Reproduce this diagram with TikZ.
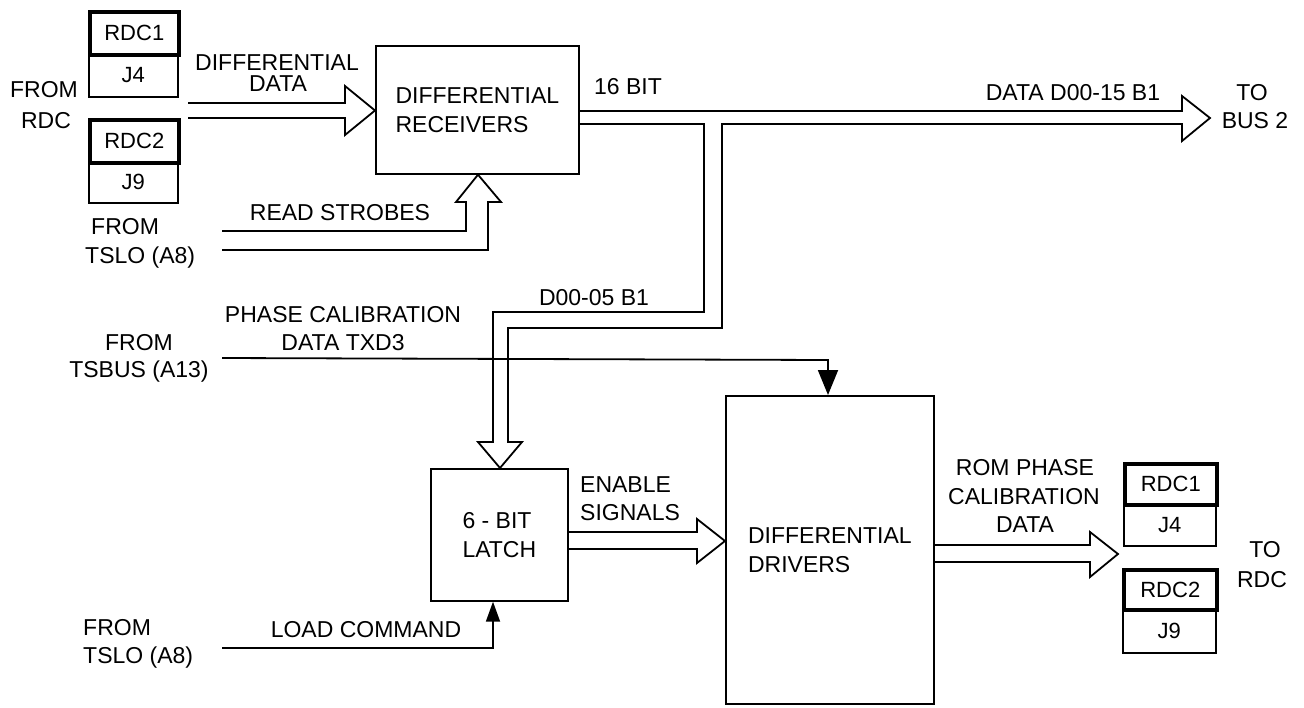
\documentclass[tikz,border=0pt]{standalone}
\usepackage{fontspec}
\setmainfont{Liberation Sans}
\usetikzlibrary{arrows.meta}
\begin{document}
\begin{tikzpicture}[x=1pt,y=-1pt,
  lbl/.style={font=\fontsize{23}{28.5}\selectfont, inner sep=0pt, align=center},
  blk/.style={draw, line width=1.7pt, inner sep=0pt, font=\fontsize{23}{29}\selectfont, align=left, anchor=north west},
  jack/.style={draw, line width=1.7pt, inner sep=0pt, font=\fontsize{22}{24}\selectfont, anchor=north west},
  plug/.style={draw, line width=3.6pt, inner sep=0pt, font=\fontsize{22}{24}\selectfont, anchor=north west},
  bus/.style={line width=1.8pt, line join=miter},
  sig/.style={line width=1.8pt},
  tipbig/.style={-{Triangle[length=25pt,width=20pt]}},
  tipsmall/.style={-{Triangle[length=20pt,width=14pt]}}
]
\fill[white] (0,0) rectangle (1304,707);
\useasboundingbox (0,0) rectangle (1304,707);

% blocks
\node[blk, minimum width=203pt, minimum height=128pt] (rx) at (375,45) {DIFFERENTIAL\\RECEIVERS};
\node[blk, minimum width=137pt, minimum height=132pt] (latch) at (430,468) {6 - BIT\\LATCH};
\node[blk, minimum width=208pt, minimum height=308pt] (drv) at (725,395) {DIFFERENTIAL\\DRIVERS};

% left connectors
\node[jack, minimum width=89pt, minimum height=43pt] (lj4) at (88,53) {J4};
\node[plug, minimum width=89pt, minimum height=43pt] (lrdc1) at (88,10) {RDC1};
\node[jack, minimum width=89pt, minimum height=41pt] (lj9) at (88,161) {J9};
\node[plug, minimum width=89pt, minimum height=43pt] (lrdc2) at (88,118) {RDC2};

% right connectors
\node[jack, minimum width=92pt, minimum height=42pt] (rj4) at (1123,503) {J4};
\node[plug, minimum width=92pt, minimum height=41pt] (rrdc1) at (1123,462) {RDC1};
\node[jack, minimum width=93pt, minimum height=44pt] (rj9) at (1122,608) {J9};
\node[plug, minimum width=93pt, minimum height=40pt] (rrdc2) at (1122,568) {RDC2};

% text labels
\node[lbl] (from1) at (44,90) {FROM};
\node[lbl] (rdcsrc) at (46,121) {RDC};
\node[lbl] (diffdata1) at (277,63) {DIFFERENTIAL};
\node[lbl] (diffdata2) at (278,84) {DATA};
\node[lbl] (bit16) at (628,87) {16 BIT};
\node[lbl] (dataout) at (1073,93) {DATA D00-15 B1};
\node[lbl] (to1) at (1252,93) {TO};
\node[lbl] (bus2) at (1255,121) {BUS 2};
\node[lbl] (readstr) at (340,213) {READ STROBES};
\node[lbl, anchor=west] (from2) at (91,227) {FROM};
\node[lbl, anchor=west] (tslo1) at (85,258) {TSLO (A8)};
\node[lbl] (d0005) at (594,298) {D00-05 B1};
\node[lbl] (phasecal1) at (343,315) {PHASE CALIBRATION};
\node[lbl] (phasecal2) at (343,343) {DATA TXD3};
\node[lbl] (from3) at (139,343) {FROM};
\node[lbl] (tsbus) at (139,372) {TSBUS (A13)};
\node[lbl, anchor=west] (enable1) at (580,485) {ENABLE};
\node[lbl, anchor=west] (enable2) at (580,513) {SIGNALS};
\node[lbl, anchor=west] (from4) at (83,628) {FROM};
\node[lbl, anchor=west] (tslo2) at (83,658) {TSLO (A8)};
\node[lbl] (loadcmd) at (366,630) {LOAD COMMAND};
\node[lbl] (rom1) at (1025,468) {ROM PHASE};
\node[lbl] (rom2) at (1024,497) {CALIBRATION};
\node[lbl] (rom3) at (1025,525) {DATA};
\node[lbl] (to2) at (1265,550) {TO};
\node[lbl] (rdcdst) at (1262,580) {RDC};

% differential data hollow arrow
\draw[bus] (188,103) -- (345,103) -- (345,86) -- (rx.west |- 0,110.5) -- (345,135) -- (345,118) -- (188,118);

% read strobes hollow arrow (up into receivers)
\draw[bus] (222,231) -- (466,231) -- (466,202) -- (456,202) -- (rx.south -| 478,0) -- (501,202) -- (488,202) -- (488,250) -- (222,250);

% main 16-bit bus with branch to latch
\draw[bus] (rx.east |- 0,111) -- (1182,111) -- (1182,96) -- (1210,118) -- (1182,141) -- (1182,124)
  -- (722,124) -- (722,328) -- (508,328) -- (508,442) -- (522,442) -- (latch.north -| 500,0)
  -- (478,442) -- (493,442) -- (493,312) -- (704,312) -- (704,124) -- (rx.east |- 0,124);

% phase calibration data line
\coordinate (pcstart) at (222,358);
\draw[sig, tipbig] (pcstart) -- (828,360) -- (drv.north -| 828,0);

% load command
\coordinate (lcstart) at (222,648);
\draw[sig, tipsmall] (lcstart) -- (493,648) -- (latch.south -| 493,0);

% enable signals hollow arrow
\draw[bus] (latch.east |- 0,532) -- (697,532) -- (697,519) -- (drv.west |- 0,541) -- (697,563) -- (697,549) -- (latch.east |- 0,549);

% output hollow arrow
\draw[bus] (drv.east |- 0,545) -- (1090,545) -- (1090,532) -- (1118,554) -- (1090,577) -- (1090,562) -- (drv.east |- 0,562);
\end{tikzpicture}
\end{document}
